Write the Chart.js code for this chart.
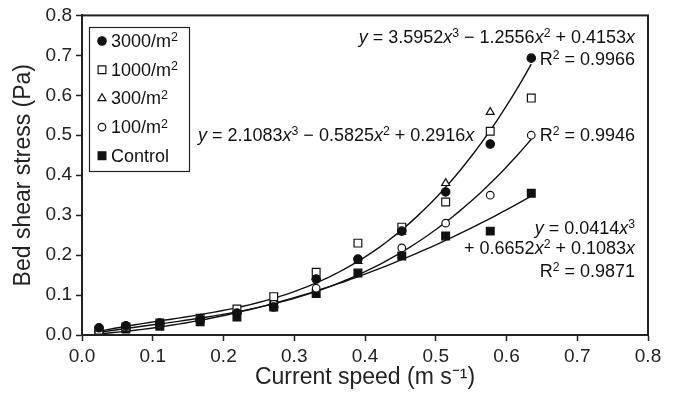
<!DOCTYPE html>
<html>
<head>
<meta charset="utf-8">
<script src="https://cdn.jsdelivr.net/npm/chart.js@4/dist/chart.umd.min.js"></script>
<style>
  html, body { margin: 0; padding: 0; background: #fff; }
  #wrap { width: 674px; height: 395px; }
</style>
</head>
<body>
<div id="wrap"><canvas id="chart"></canvas></div>
<script>
// current speed (m s-1) at each run
const speeds = [0.024, 0.062, 0.11, 0.167, 0.219, 0.271, 0.331, 0.39, 0.452, 0.514, 0.577, 0.635];

// bed shear stress (Pa) per treatment
const s3000 = [0.018, 0.023, 0.030, 0.040, 0.055, 0.070, 0.140, 0.190, 0.260, 0.358, 0.478, 0.693];
const s1000 = [0.012, 0.020, 0.030, 0.042, 0.065, 0.096, 0.157, 0.230, 0.270, 0.333, 0.510, 0.593];
const s300 = [0.012, 0.020, 0.028, 0.040, 0.060, 0.085, 0.145, 0.185, 0.258, 0.380, 0.558];
const s100 = [0.010, 0.018, 0.027, 0.038, 0.058, 0.085, 0.117, 0.190, 0.218, 0.280, 0.350, 0.500];
const sControl = [0.008, 0.015, 0.022, 0.033, 0.045, 0.070, 0.104, 0.155, 0.198, 0.248, 0.260, 0.355];

// cubic fits as printed on the figure: [a3, a2, a1]
const fit3000 = [3.5952, -1.2556, 0.4153];
const fit100 = [2.1083, -0.5825, 0.2916];
const fitControl = [0.0414, 0.6652, 0.1083];

const yTicks = ['0.0', '0.1', '0.2', '0.3', '0.4', '0.5', '0.6', '0.7', '0.8'];

function pts(vals) {
  return vals.map((v, i) => ({ x: speeds[i], y: v }));
}

function fitLine(c) {
  const out = [];
  const x0 = speeds[0], x1 = speeds[speeds.length - 1];
  for (let k = 0; k <= 60; k++) {
    const x = x0 + (x1 - x0) * k / 60;
    out.push({ x: x, y: c[0] * x * x * x + c[1] * x * x + c[2] * x });
  }
  return out;
}

const FONT = '"Liberation Sans", Arial, sans-serif';

const series = [
  { label: '3000/m²', data: s3000, style: 'circle', fill: '#111', r: 4.2 },
  { label: '1000/m²', data: s1000, style: 'rect', fill: '#fff', r: 5.5 },
  { label: '300/m²', data: s300, style: 'triangle', fill: '#fff', r: 4.6 },
  { label: '100/m²', data: s100, style: 'circle', fill: '#fff', r: 3.8 },
  { label: 'Control', data: sControl, style: 'rect', fill: '#111', r: 5.5 }
];

const datasets = series.map(s => ({
  type: 'scatter',
  label: s.label,
  data: pts(s.data),
  pointStyle: s.style,
  pointRadius: s.r,
  pointBackgroundColor: s.fill,
  pointBorderColor: '#111',
  pointBorderWidth: 1.2,
  order: 1
}));

[fit3000, fit100, fitControl].forEach(c => {
  datasets.push({
    type: 'line',
    label: '',
    data: fitLine(c),
    borderColor: '#111',
    borderWidth: 1.4,
    pointRadius: 0,
    tension: 0,
    order: 2
  });
});

function drawMarker(ctx, s, x, y) {
  ctx.save();
  ctx.fillStyle = s.fill;
  ctx.strokeStyle = '#111';
  ctx.lineWidth = 1.2;
  ctx.beginPath();
  if (s.style === 'circle') {
    ctx.arc(x, y, s.r, 0, Math.PI * 2);
  } else if (s.style === 'rect') {
    const h = s.r * Math.SQRT1_2;
    ctx.rect(x - h, y - h, 2 * h, 2 * h);
  } else {
    const r = s.r;
    ctx.moveTo(x, y - r);
    ctx.lineTo(x + r * 0.866, y + r * 0.5);
    ctx.lineTo(x - r * 0.866, y + r * 0.5);
    ctx.closePath();
  }
  ctx.fill();
  ctx.stroke();
  ctx.restore();
}

// rich text: segments of [text, kind] where kind is n (normal), i (italic), s (superscript)
function richWidth(ctx, segs, size) {
  let w = 0;
  segs.forEach(([t, k]) => {
    ctx.font = (k === 'i' ? 'italic ' : '') + (k === 's' ? size * 0.68 : size) + 'px ' + FONT;
    w += ctx.measureText(t).width;
  });
  return w;
}

function drawRich(ctx, segs, x, y, size, align) {
  let cx = align === 'right' ? x - richWidth(ctx, segs, size) : x;
  ctx.save();
  ctx.fillStyle = '#111';
  ctx.textBaseline = 'alphabetic';
  ctx.textAlign = 'left';
  segs.forEach(([t, k]) => {
    ctx.font = (k === 'i' ? 'italic ' : '') + (k === 's' ? size * 0.68 : size) + 'px ' + FONT;
    ctx.fillText(t, cx, k === 's' ? y - size * 0.33 : y);
    cx += ctx.measureText(t).width;
  });
  ctx.restore();
}

const decor = {
  id: 'decor',
  afterDraw(chart) {
    const ctx = chart.ctx;
    const a = chart.chartArea;
    // frame
    ctx.save();
    ctx.strokeStyle = '#222';
    ctx.lineWidth = 2;
    ctx.strokeRect(a.left, a.top, a.right - a.left, a.bottom - a.top);
    ctx.restore();

    // legend box
    ctx.save();
    ctx.strokeStyle = '#222';
    ctx.lineWidth = 1.2;
    ctx.strokeRect(89.5, 27.5, 100, 144);
    ctx.restore();
    series.forEach((s, i) => {
      const y = 41 + i * 28.7;
      drawMarker(ctx, s, 102, y);
      ctx.save();
      ctx.fillStyle = '#111';
      ctx.textBaseline = 'middle';
      ctx.font = '18px ' + FONT;
      const m = s.label.match(/^(.*)²$/);
      if (m) {
        ctx.fillText(m[1], 111, y + 1);
        const w = ctx.measureText(m[1]).width;
        ctx.font = '12.5px ' + FONT;
        ctx.fillText('2', 111 + w, y - 3);
      } else {
        ctx.fillText(s.label, 111, y + 1);
      }
      ctx.restore();
    });

    // fit equations
    const sz = 18;
    drawRich(ctx, [['y', 'i'], [' = 3.5952', 'n'], ['x', 'i'], ['3', 's'], [' − 1.2556', 'n'], ['x', 'i'], ['2', 's'], [' + 0.4153', 'n'], ['x', 'i']], 635, 43, sz, 'right');
    drawRich(ctx, [['R', 'n'], ['2', 's'], [' = 0.9966', 'n']], 635, 65, sz, 'right');
    drawRich(ctx, [['y', 'i'], [' = 2.1083', 'n'], ['x', 'i'], ['3', 's'], [' − 0.5825', 'n'], ['x', 'i'], ['2', 's'], [' + 0.2916', 'n'], ['x', 'i']], 198, 141, sz, 'left');
    drawRich(ctx, [['R', 'n'], ['2', 's'], [' = 0.9946', 'n']], 635, 141, sz, 'right');
    drawRich(ctx, [['y', 'i'], [' = 0.0414', 'n'], ['x', 'i'], ['3', 's']], 635, 234, sz, 'right');
    drawRich(ctx, [['+ 0.6652', 'n'], ['x', 'i'], ['2', 's'], [' + 0.1083', 'n'], ['x', 'i']], 635, 254, sz, 'right');
    drawRich(ctx, [['R', 'n'], ['2', 's'], [' = 0.9871', 'n']], 635, 277, sz, 'right');
  }
};

new Chart(document.getElementById('chart'), {
  type: 'scatter',
  data: { datasets: datasets },
  plugins: [decor],
  options: {
    responsive: true,
    maintainAspectRatio: false,
    animation: false,
    layout: { padding: { top: 15, right: 26, left: 0, bottom: 0 } },
    plugins: { legend: { display: false }, tooltip: { enabled: false } },
    scales: {
      x: {
        type: 'linear',
        min: 0, max: 0.8,
        afterFit(scale) { scale.height = 60; },
        ticks: {
          stepSize: 0.1, padding: 4, color: '#222',
          font: { family: FONT, size: 19 },
          callback: v => v.toFixed(1)
        },
        grid: { drawOnChartArea: false, tickLength: 6, tickColor: '#222', tickWidth: 1.5 },
        border: { display: true, color: '#222', width: 2 },
        title: {
          display: true, text: 'Current speed (m s⁻¹)', color: '#222',
          font: { family: FONT, size: 23 }, padding: { top: 0, bottom: 4 }
        }
      },
      y: {
        type: 'linear',
        min: 0, max: 0.8,
        afterFit(scale) { scale.width = 82; },
        ticks: {
          stepSize: 0.1, padding: 4, color: '#222',
          font: { family: FONT, size: 19 },
          callback: (v, i) => yTicks[i]
        },
        grid: { drawOnChartArea: false, tickLength: 6, tickColor: '#222', tickWidth: 1.5 },
        border: { display: true, color: '#222', width: 2 },
        title: {
          display: true, text: 'Bed shear stress (Pa)', color: '#222',
          font: { family: FONT, size: 23 }, padding: { top: 10, bottom: 0 }
        }
      }
    }
  }
});
</script>
</body>
</html>
